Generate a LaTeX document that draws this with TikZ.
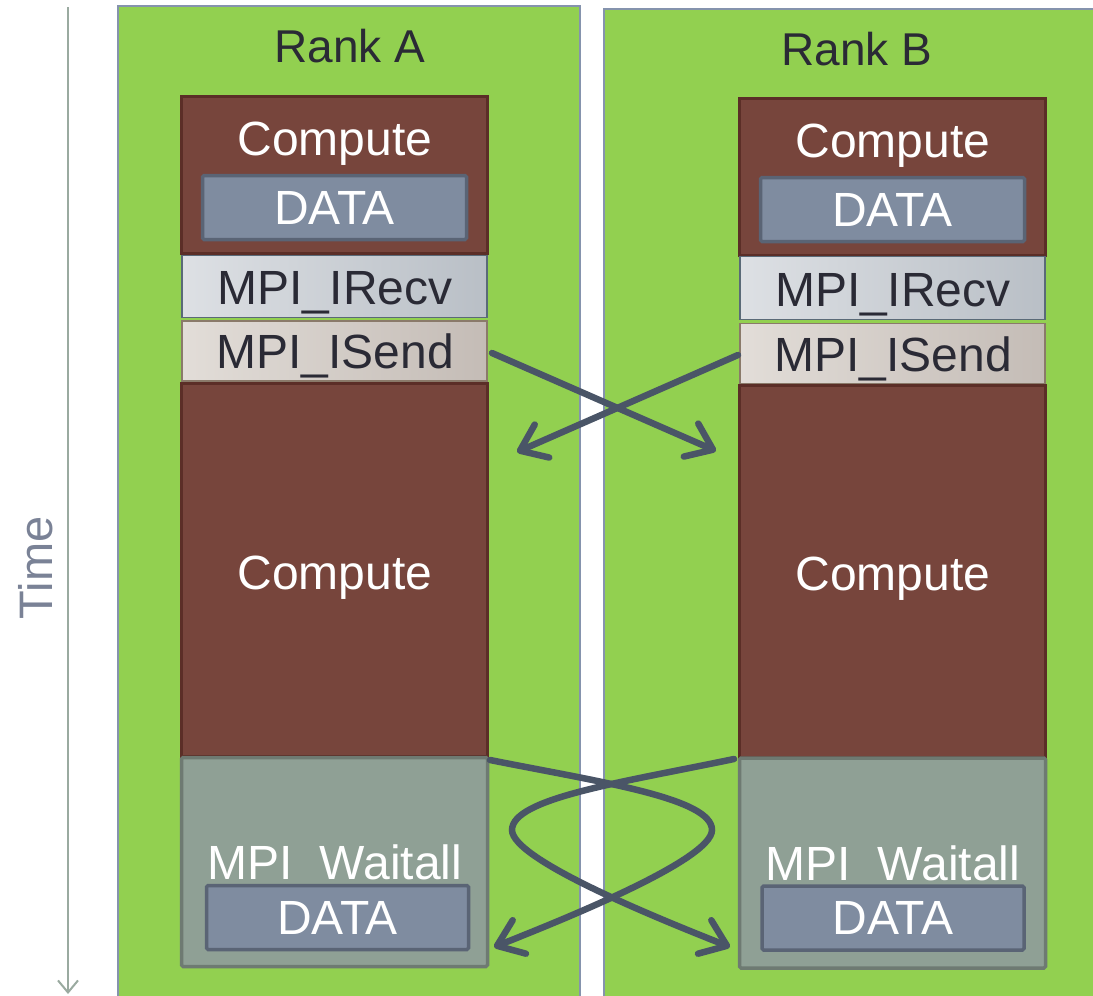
\documentclass[tikz,border=0pt]{standalone}
\usepackage{fontspec}
\setmainfont{Liberation Sans}
\usetikzlibrary{arrows.meta}
\definecolor{panelgreen}{HTML}{92D050}
\definecolor{panelline}{HTML}{8593AD}
\definecolor{compfill}{HTML}{77453C}
\definecolor{compline}{HTML}{5B2E27}
\definecolor{datafill}{HTML}{7F8CA0}
\definecolor{dataline}{HTML}{5A6475}
\definecolor{waitfill}{HTML}{8FA095}
\definecolor{waitline}{HTML}{6E7A72}
\definecolor{recvl}{HTML}{DDE0E4}
\definecolor{recvr}{HTML}{B9BFC6}
\definecolor{recvline}{HTML}{5A6A78}
\definecolor{sendl}{HTML}{E2DDD8}
\definecolor{sendr}{HTML}{C4BCB6}
\definecolor{sendline}{HTML}{8A7A6A}
\definecolor{arrowcol}{HTML}{4A5567}
\definecolor{timecol}{HTML}{9AAAA0}
\definecolor{timetext}{HTML}{7A8296}
\definecolor{darktext}{HTML}{2A2A35}
\begin{document}
\begin{tikzpicture}[x=1pt,y=-1pt,
  panel/.style={draw=panelline,line width=2pt,fill=panelgreen},
  box/.style={rectangle,inner sep=0pt,outer sep=0pt},
  compbox/.style={box,draw=compline,line width=3pt,fill=compfill},
  databox/.style={box,draw=dataline,line width=3.5pt,fill=datafill,rounded corners=1.5pt},
  recvbox/.style={box,draw=recvline,line width=1.5pt,left color=recvl,right color=recvr},
  sendbox/.style={box,draw=sendline,line width=1.5pt,left color=sendl,right color=sendr},
  waitbox/.style={box,draw=waitline,line width=3.5pt,fill=waitfill,rounded corners=1.5pt},
  lbl/.style={inner sep=0pt,font=\fontsize{48}{52}\selectfont},
  whitelbl/.style={lbl,text=white},
  darklbl/.style={lbl,text=darktext},
  ranklbl/.style={inner sep=0pt,font=\fontsize{46}{50}\selectfont,text=darktext},
  msg/.style={draw=arrowcol,line width=6.5pt,line cap=round,
    -{Straight Barb[length=24pt,width=36pt,round]}},
  timearrow/.style={draw=timecol,line width=2pt,-{Straight Barb[length=12pt,width=20pt]}}
]
\useasboundingbox (0,0) rectangle (1093,996);
\clip (0,0) rectangle (1093,996);

% time axis
\coordinate (t0) at (68,7);
\coordinate (t1) at (68,994);
\draw[timearrow] (t0) -- (t1);
\node[inner sep=0pt,rotate=90,font=\fontsize{47}{52}\selectfont,text=timetext] (time) at (36,568) {Time};

% panels
\node[panel,box,minimum width=462pt,minimum height=1000pt,anchor=north west] (panA) at (118,6) {};
\node[panel,box,minimum width=500pt,minimum height=1000pt,anchor=north west] (panB) at (604,9) {};
\node[ranklbl,anchor=base] (rankA) at (350,62) {Rank A};
\node[ranklbl,anchor=base] (rankB) at (857,65) {Rank B};

% Rank A column
\node[compbox,minimum width=306pt,minimum height=157pt] (compA1) at (334.5,174.5) {};
\node[whitelbl,anchor=base] (compA1t) at (335,155) {Compute};
\node[databox,minimum width=264pt,minimum height=64pt] (dataA1) at (334.5,207.5) {};
\node[whitelbl] (dataA1t) at (dataA1.center) {DATA};
\node[recvbox,minimum width=305pt,minimum height=62pt] (recvA) at (334.5,286.5) {};
\node[darklbl,anchor=base] (recvAt) at (335,304) {MPI\_IRecv};
\node[sendbox,minimum width=305pt,minimum height=60pt] (sendA) at (334.5,351) {};
\node[darklbl,anchor=base] (sendAt) at (335,368) {MPI\_ISend};
\node[compbox,minimum width=306pt,minimum height=373pt] (compA2) at (334.5,569.5) {};
\node[whitelbl,anchor=base] (compA2t) at (335,589) {Compute};
\node[waitbox,minimum width=306pt,minimum height=209pt] (waitA) at (334.5,862) {};
\node[whitelbl,anchor=base] (waitAt) at (335,879) {MPI\_Waitall};
\node[databox,minimum width=262pt,minimum height=64pt] (dataA2) at (337.5,917.5) {};
\node[whitelbl] (dataA2t) at (dataA2.center) {DATA};

% Rank B column
\node[compbox,minimum width=306pt,minimum height=157pt] (compB1) at (892.5,176.5) {};
\node[whitelbl,anchor=base] (compB1t) at (893,157) {Compute};
\node[databox,minimum width=264pt,minimum height=64pt] (dataB1) at (892.5,209.5) {};
\node[whitelbl] (dataB1t) at (dataB1.center) {DATA};
\node[recvbox,minimum width=305pt,minimum height=63pt] (recvB) at (892.5,288) {};
\node[darklbl,anchor=base] (recvBt) at (893,306) {MPI\_IRecv};
\node[sendbox,minimum width=305pt,minimum height=60pt] (sendB) at (892.5,353.5) {};
\node[darklbl,anchor=base] (sendBt) at (893,371) {MPI\_ISend};
\node[compbox,minimum width=306pt,minimum height=372pt] (compB2) at (892.5,571) {};
\node[whitelbl,anchor=base] (compB2t) at (893,590) {Compute};
\node[waitbox,minimum width=306pt,minimum height=210pt] (waitB) at (892.5,863) {};
\node[whitelbl,anchor=base] (waitBt) at (893,880) {MPI\_Waitall};
\node[databox,minimum width=262pt,minimum height=64pt] (dataB2) at (893,918) {};
\node[whitelbl] (dataB2t) at (dataB2.center) {DATA};

% message arrows (ISend)
\coordinate (sA) at (492,353);
\coordinate (tipB) at (716,451);
\coordinate (sB) at (738,355);
\coordinate (tipA) at (517,452);
\draw[msg] (sA) -- (tipB);
\draw[msg] (sB) -- (tipA);

% Waitall crossing loops
\coordinate (wA) at (490,760);
\coordinate (wB) at (734,759);
\coordinate (eA) at (494,947);
\coordinate (eB) at (730,947);
\draw[msg] (wA) .. controls (600,782) and (712,798) .. (712,830)
               .. controls (712,860) and (562,920) .. (eA);
\draw[msg] (wB) .. controls (624,782) and (512,798) .. (512,830)
               .. controls (512,860) and (662,920) .. (eB);
\end{tikzpicture}
\end{document}
